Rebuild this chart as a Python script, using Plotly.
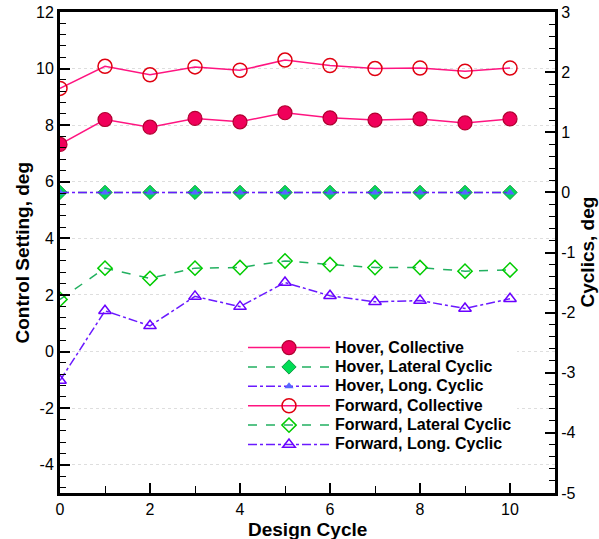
import plotly.graph_objects as go

# Design cycle index
cycles = [0, 1, 2, 3, 4, 5, 6, 7, 8, 9, 10]

# Collective settings (left axis, deg)
hover_collective = [7.32, 8.20, 7.93, 8.24, 8.12, 8.44, 8.26, 8.18, 8.22, 8.08, 8.22]
forward_collective = [9.30, 10.08, 9.78, 10.06, 9.94, 10.30, 10.11, 10.00, 10.02, 9.91, 10.02]

# Cyclic settings (right axis, deg)
hover_lateral = [0, 0, 0, 0, 0, 0, 0, 0, 0, 0, 0]
hover_long = [0, 0, 0, 0, 0, 0, 0, 0, 0, 0, 0]
forward_lateral = [-1.78, -1.26, -1.43, -1.26, -1.25, -1.14, -1.20, -1.25, -1.25, -1.31, -1.29]
forward_long = [-3.13, -1.97, -2.22, -1.73, -1.90, -1.50, -1.72, -1.82, -1.80, -1.93, -1.77]

# Tick values and labels (plain hyphen for negatives)
x_ticks = [0, 2, 4, 6, 8, 10]
left_ticks = [-4, -2, 0, 2, 4, 6, 8, 10, 12]
right_ticks = [-5, -4, -3, -2, -1, 0, 1, 2, 3]

FONT = "Liberation Sans, Arial, Helvetica, sans-serif"
PINK = "#ff1480"
GREEN_LINE = "#22b060"
PURPLE = "#6a1aff"


def legend_label(text):
    return '<span style="font-size:16px">' + text + "</span>"


fig = go.Figure()

fig.add_trace(go.Scatter(
    x=cycles, y=hover_collective, name=legend_label("Hover, Collective"),
    mode="lines+markers",
    line=dict(color=PINK, width=1.5),
    marker=dict(symbol="circle", size=14, color="#f0005a",
                line=dict(color="#b00030", width=1.2)),
))
fig.add_trace(go.Scatter(
    x=cycles, y=hover_lateral, name=legend_label("Hover, Lateral Cyclic"),
    mode="lines+markers", yaxis="y2",
    line=dict(color=GREEN_LINE, width=1.5, dash="dash"),
    marker=dict(symbol="diamond", size=11, color="#00dd55",
                line=dict(color="#119944", width=1)),
))
fig.add_trace(go.Scatter(
    x=cycles, y=hover_long, name=legend_label("Hover, Long. Cyclic"),
    mode="lines+markers", yaxis="y2",
    line=dict(color=PURPLE, width=1.5, dash="dashdot"),
    marker=dict(symbol="triangle-up", size=8, color="#5566ff",
                line=dict(color="#5566ff", width=0)),
))
fig.add_trace(go.Scatter(
    x=cycles, y=forward_collective, name=legend_label("Forward, Collective"),
    mode="lines+markers",
    line=dict(color=PINK, width=1.5),
    marker=dict(symbol="circle-open", size=14, color="#e00010",
                line=dict(color="#e00010", width=1.5)),
))
fig.add_trace(go.Scatter(
    x=cycles, y=forward_lateral, name=legend_label("Forward, Lateral Cyclic"),
    mode="lines+markers", yaxis="y2",
    line=dict(color=GREEN_LINE, width=1.5, dash="dash"),
    marker=dict(symbol="diamond-open", size=11, color="#00cc00",
                line=dict(color="#00cc00", width=1.5)),
))
fig.add_trace(go.Scatter(
    x=cycles, y=forward_long, name=legend_label("Forward, Long. Cyclic"),
    mode="lines+markers", yaxis="y2",
    line=dict(color=PURPLE, width=1.5, dash="dashdot"),
    marker=dict(symbol="triangle-up-open", size=11, color="#6a00ff",
                line=dict(color="#6a00ff", width=1.5)),
))

tickfont = dict(family=FONT, size=16, color="black")

fig.update_layout(
    width=599, height=539,
    margin=dict(l=60, r=44, t=12, b=46, autoexpand=False),
    paper_bgcolor="white", plot_bgcolor="white",
    showlegend=True,
    legend=dict(
        x=(243 - 60) / 495, y=(493.3 - 333) / 481.6, xanchor="left", yanchor="top",
        bgcolor="white", borderwidth=0,
        font=dict(family=FONT, size=12.6, color="black", weight="bold"),
        itemwidth=82, tracegroupgap=0,
    ),
    xaxis=dict(
        range=[0, 11], tickmode="array", tickvals=x_ticks,
        ticktext=[str(v) for v in x_ticks],
        ticks="inside", ticklen=10, tickwidth=2, tickcolor="black",
        minor=dict(dtick=1, tick0=0, ticks="inside", ticklen=7, tickwidth=1,
                   tickcolor="black"),
        showline=True, linecolor="black", linewidth=3, mirror=True,
        showgrid=False, zeroline=False, tickfont=tickfont,
    ),
    yaxis=dict(
        range=[-5, 12], tickmode="array", tickvals=left_ticks,
        ticktext=[str(v) for v in left_ticks],
        ticks="inside", ticklen=10, tickwidth=2, tickcolor="black",
        minor=dict(dtick=0.4, tick0=0, ticks="inside", ticklen=6, tickwidth=1,
                   tickcolor="black", showgrid=False),
        showline=True, linecolor="black", linewidth=3, mirror=True,
        showgrid=True, gridcolor="#dedede", gridwidth=1, griddash="dot",
        zeroline=False, tickfont=tickfont,
    ),
    yaxis2=dict(
        range=[-5, 3], overlaying="y", side="right",
        tickmode="array", tickvals=right_ticks,
        ticktext=[str(v) for v in right_ticks],
        ticks="inside", ticklen=10, tickwidth=2, tickcolor="black",
        minor=dict(dtick=0.2, tick0=0, ticks="inside", ticklen=6, tickwidth=1,
                   tickcolor="black", showgrid=False),
        showline=True, linecolor="black", linewidth=3,
        showgrid=False, zeroline=False, tickfont=tickfont,
    ),
    annotations=[
        dict(text="<b>Design Cycle</b>", xref="paper", yref="paper",
             x=(307 - 60) / 495, y=-0.075, xanchor="center", yanchor="middle",
             showarrow=False, font=dict(family=FONT, size=19, color="black")),
        dict(text="<b>Control Setting, deg</b>", xref="paper", yref="paper",
             x=-(60 - 22) / 495, y=0.5, xanchor="center", yanchor="middle",
             textangle=-90, showarrow=False,
             font=dict(family=FONT, size=19, color="black")),
        dict(text="<b>Cyclics, deg</b>", xref="paper", yref="paper",
             x=1 + (587 - 555) / 495, y=0.5, xanchor="center", yanchor="middle",
             textangle=-90, showarrow=False,
             font=dict(family=FONT, size=19, color="black")),
    ],
)

fig.write_html("out.html")
